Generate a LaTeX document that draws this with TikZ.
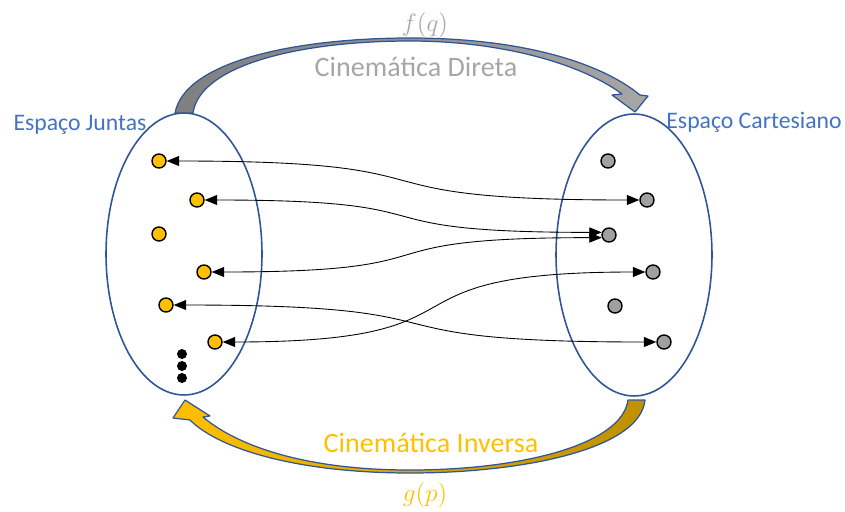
\documentclass[tikz,border=0pt]{standalone}
\usepackage{fontspec}
\setmainfont{Carlito}
\usetikzlibrary{shapes.geometric, arrows.meta}
\definecolor{bordaazul}{HTML}{2F5597}
\definecolor{azul}{HTML}{4472C4}
\definecolor{ouro}{HTML}{FFC000}
\definecolor{ouroesc}{HTML}{BF9000}
\definecolor{cinza}{HTML}{A6A6A6}
\definecolor{cinzaesc}{HTML}{7F7F7F}
\definecolor{cinzaponto}{HTML}{A0A0A0}
\begin{document}
\begin{tikzpicture}[x=0.02cm, y=-0.02cm,
  espaco/.style={draw=bordaazul, line width=0.9pt, ellipse, minimum width=3.12cm, minimum height=5.64cm, inner sep=0pt},
  junta/.style={circle, draw, line width=0.8pt, fill=ouro, minimum size=2.8mm, inner sep=0pt},
  cart/.style={junta, fill=cinzaponto},
  ponto/.style={circle, fill, minimum size=2mm, inner sep=0pt},
  link/.style={{Triangle[length=2.5mm, width=2mm]}-{Triangle[length=2.5mm, width=2mm]}, line width=0.5pt, looseness=1.7},
  bloco/.style={draw=bordaazul, line width=0.7pt, line join=round},
  rotulo/.style={text=azul, font=\fontsize{13.5}{16}\selectfont, inner sep=0pt},
  titulo/.style={font=\fontsize{16}{19}\selectfont, inner sep=0pt}]
\useasboundingbox (0,0) rectangle (845,511);
\node[espaco](EJ)at(184,254){};
\node[espaco](EC)at(634,255){};
%
\draw[bloco, left color=cinzaesc, right color=cinza] (175,113) .. controls (185,60) and (300,38) .. (410,38) .. controls (520,38) and (600,62) .. (640,95) -- (648,96) -- (635,112) -- (612,95) -- (622,94) .. controls (580,63) and (500,41) .. (410,41) .. controls (300,41) and (200,65) .. (193,113) -- cycle;
\draw[bloco, left color=ouro, right color=ouroesc] (645,400) .. controls (640,450) and (520,473) .. (410,473) .. controls (300,473) and (220,450) .. (190,420) -- (173,418) -- (185,400) -- (210,416) -- (203,417) .. controls (240,448) and (310,470) .. (410,470) .. controls (520,470) and (622,445) .. (628,400) -- cycle;
%
\node[junta](J1)at(159,161){};
\node[junta](J2)at(197,200){};
\node[junta](J3)at(159,234){};
\node[junta](J4)at(204,272){};
\node[junta](J5)at(166,305){};
\node[junta](J6)at(215,342){};
\node[ponto](P1)at(182,354){};
\node[ponto](P2)at(182,366){};
\node[ponto](P3)at(182,378){};
%
\node[cart](C1)at(608,161){};
\node[cart](C2)at(647,200){};
\node[cart](C3)at(609,235){};
\node[cart](C4)at(653,272){};
\node[cart](C5)at(615,306){};
\node[cart](C6)at(664,342){};
%
\node[rotulo](LJ)at(80,125){Espaço Juntas};
\node[rotulo](LC)at(754,122){Espaço Cartesiano};
\node[titulo, text=cinza](LD)at(416,67){Cinemática Direta};
\node[titulo, text=ouro](LI)at(431,443){Cinemática Inversa};
\node[text=cinza, font=\fontsize{14.5}{17}\selectfont, inner sep=0pt](F)at(425,25){$f(q)$};
\node[text=ouro, font=\fontsize{14.5}{17}\selectfont, inner sep=0pt](G)at(425,495){$g(p)$};
%
\draw[link](J1)to[out=0, in=180](C2);
\draw[link](J2)to[out=0, in=180](C3.160);
\draw[link](J4)to[out=0, in=180](C3.200);
\draw[link](J6)to[out=0, in=180](C4);
\draw[link](J5)to[out=0, in=180](C6);
\end{tikzpicture}
\end{document}
